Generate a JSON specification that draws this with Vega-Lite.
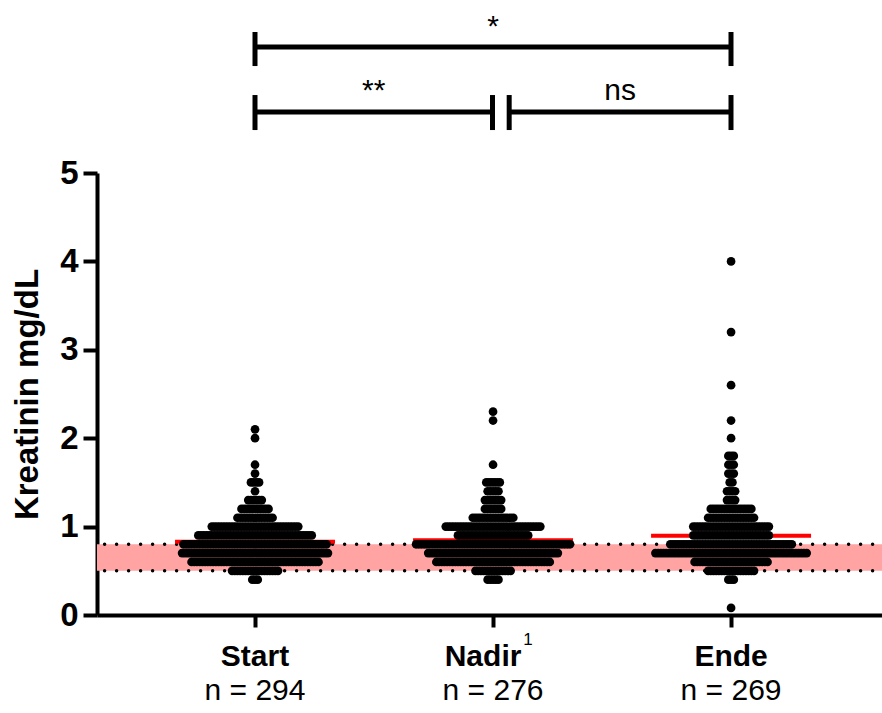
{
  "$schema": "https://vega.github.io/schema/vega-lite/v6.json",
  "width": 785,
  "height": 442,
  "autosize": "none",
  "padding": {"left": 97, "top": 173, "right": 0, "bottom": 98},
  "background": "white",
  "config": {
    "view": {"stroke": null},
    "font": "Liberation Sans",
    "axisY": {"domainColor": "black", "domainWidth": 4, "tickColor": "black", "tickWidth": 4, "tickSize": 14, "labelPadding": 5, "labelFontSize": 33, "labelFontWeight": "bold", "labelColor": "black", "titleFontSize": 33, "titleFontWeight": "bold", "titleColor": "black", "titlePadding": 15, "grid": false, "zindex": 1, "format": "d"},
    "axisX": {"domainColor": "black", "domainWidth": 4, "tickColor": "black", "tickWidth": 4, "tickSize": 12, "labelPadding": 14, "labelFontSize": 30, "labelFontWeight": "bold", "labelColor": "black", "grid": false, "labelAngle": 0, "zindex": 1}
  },
  "datasets": {
    "pts": [
      {"g": "Start", "v": [
        0.4,0.4,0.4,
        0.5,0.5,0.5,0.5,0.5,0.5,0.5,0.5,0.5,0.5,
        0.5,0.5,0.5,0.5,0.5,0.5,0.5,0.5,
        0.6,0.6,0.6,0.6,0.6,0.6,0.6,0.6,0.6,0.6,
        0.6,0.6,0.6,0.6,0.6,0.6,0.6,0.6,0.6,0.6,
        0.6,0.6,0.6,0.6,0.6,0.6,0.6,0.6,0.6,0.6,
        0.6,0.6,0.6,0.6,0.6,0.6,0.6,0.6,0.6,0.6,
        0.6,0.6,0.6,0.6,0.6,0.6,0.6,0.6,
        0.7,0.7,0.7,0.7,0.7,0.7,0.7,0.7,0.7,0.7,
        0.7,0.7,0.7,0.7,0.7,0.7,0.7,0.7,0.7,0.7,
        0.7,0.7,0.7,0.7,0.7,0.7,0.7,0.7,0.7,0.7,
        0.7,0.7,0.7,0.7,0.7,0.7,0.7,0.7,0.7,0.7,
        0.7,0.7,0.7,0.7,0.7,0.7,0.7,0.7,0.7,0.7,
        0.7,0.7,0.7,0.7,0.7,
        0.8,0.8,0.8,0.8,0.8,0.8,0.8,0.8,0.8,0.8,
        0.8,0.8,0.8,0.8,0.8,0.8,0.8,0.8,0.8,0.8,
        0.8,0.8,0.8,0.8,0.8,0.8,0.8,0.8,0.8,0.8,
        0.8,0.8,0.8,0.8,0.8,0.8,0.8,0.8,0.8,0.8,
        0.8,0.8,0.8,0.8,0.8,0.8,0.8,0.8,0.8,0.8,
        0.8,0.8,0.8,0.8,
        0.9,0.9,0.9,0.9,0.9,0.9,0.9,0.9,0.9,0.9,
        0.9,0.9,0.9,0.9,0.9,0.9,0.9,0.9,0.9,0.9,
        0.9,0.9,0.9,0.9,0.9,0.9,0.9,0.9,0.9,0.9,
        0.9,0.9,0.9,0.9,0.9,0.9,0.9,0.9,0.9,0.9,
        0.9,0.9,0.9,
        1,1,1,1,1,1,1,1,1,1,
        1,1,1,1,1,1,1,1,1,1,
        1,1,1,1,1,1,1,1,1,1,
        1,1,1,
        1.1,1.1,1.1,1.1,1.1,1.1,1.1,1.1,1.1,1.1,
        1.1,1.1,1.1,1.1,
        1.2,1.2,1.2,1.2,1.2,1.2,1.2,1.2,1.2,1.2,
        1.2,
        1.3,1.3,1.3,1.3,1.3,1.3,
        1.4,
        1.5,1.5,1.5,1.5,
        1.6,1.7,2.0,2.1
      ]},
      {"g": "Nadir", "v": [
        0.4,0.4,0.4,0.4,0.4,
        0.5,0.5,0.5,0.5,0.5,0.5,0.5,0.5,0.5,0.5,
        0.5,0.5,0.5,0.5,
        0.6,0.6,0.6,0.6,0.6,0.6,0.6,0.6,0.6,0.6,
        0.6,0.6,0.6,0.6,0.6,0.6,0.6,0.6,0.6,0.6,
        0.6,0.6,0.6,0.6,0.6,0.6,0.6,0.6,0.6,0.6,
        0.6,0.6,0.6,0.6,0.6,0.6,0.6,0.6,0.6,0.6,
        0.6,0.6,0.6,
        0.7,0.7,0.7,0.7,0.7,0.7,0.7,0.7,0.7,0.7,
        0.7,0.7,0.7,0.7,0.7,0.7,0.7,0.7,0.7,0.7,
        0.7,0.7,0.7,0.7,0.7,0.7,0.7,0.7,0.7,0.7,
        0.7,0.7,0.7,0.7,0.7,0.7,0.7,0.7,0.7,0.7,
        0.7,0.7,0.7,0.7,0.7,0.7,0.7,0.7,0.7,
        0.8,0.8,0.8,0.8,0.8,0.8,0.8,0.8,0.8,0.8,
        0.8,0.8,0.8,0.8,0.8,0.8,0.8,0.8,0.8,0.8,
        0.8,0.8,0.8,0.8,0.8,0.8,0.8,0.8,0.8,0.8,
        0.8,0.8,0.8,0.8,0.8,0.8,0.8,0.8,0.8,0.8,
        0.8,0.8,0.8,0.8,0.8,0.8,0.8,0.8,0.8,0.8,
        0.8,0.8,0.8,0.8,0.8,0.8,0.8,0.8,
        0.9,0.9,0.9,0.9,0.9,0.9,0.9,0.9,0.9,0.9,
        0.9,0.9,0.9,0.9,0.9,0.9,0.9,0.9,0.9,0.9,
        0.9,0.9,0.9,0.9,0.9,0.9,0.9,
        1,1,1,1,1,1,1,1,1,1,
        1,1,1,1,1,1,1,1,1,1,
        1,1,1,1,1,1,1,1,1,1,
        1,1,1,1,1,1,
        1.1,1.1,1.1,1.1,1.1,1.1,1.1,1.1,1.1,1.1,
        1.1,1.1,1.1,1.1,1.1,1.1,
        1.2,1.2,1.2,1.2,1.2,1.2,1.2,
        1.3,1.3,1.3,1.3,1.3,1.3,1.3,
        1.4,1.4,1.4,1.4,1.4,
        1.5,1.5,1.5,1.5,1.5,1.5,
        1.7,2.2,2.3
      ]},
      {"g": "Ende", "v": [
        0.08,
        0.4,0.4,0.4,
        0.5,0.5,0.5,0.5,0.5,0.5,0.5,0.5,0.5,0.5,
        0.5,0.5,0.5,0.5,0.5,0.5,0.5,0.5,
        0.6,0.6,0.6,0.6,0.6,0.6,0.6,0.6,0.6,0.6,
        0.6,0.6,0.6,0.6,0.6,0.6,0.6,0.6,0.6,0.6,
        0.6,0.6,0.6,0.6,0.6,0.6,0.6,0.6,
        0.7,0.7,0.7,0.7,0.7,0.7,0.7,0.7,0.7,0.7,
        0.7,0.7,0.7,0.7,0.7,0.7,0.7,0.7,0.7,0.7,
        0.7,0.7,0.7,0.7,0.7,0.7,0.7,0.7,0.7,0.7,
        0.7,0.7,0.7,0.7,0.7,0.7,0.7,0.7,0.7,0.7,
        0.7,0.7,0.7,0.7,0.7,0.7,0.7,0.7,0.7,0.7,
        0.7,0.7,0.7,0.7,0.7,0.7,0.7,
        0.8,0.8,0.8,0.8,0.8,0.8,0.8,0.8,0.8,0.8,
        0.8,0.8,0.8,0.8,0.8,0.8,0.8,0.8,0.8,0.8,
        0.8,0.8,0.8,0.8,0.8,0.8,0.8,0.8,0.8,0.8,
        0.8,0.8,0.8,0.8,0.8,0.8,0.8,0.8,0.8,0.8,
        0.8,0.8,0.8,0.8,0.8,0.8,
        0.9,0.9,0.9,0.9,0.9,0.9,0.9,0.9,0.9,0.9,
        0.9,0.9,0.9,0.9,0.9,0.9,0.9,0.9,0.9,0.9,
        0.9,0.9,0.9,0.9,0.9,0.9,0.9,0.9,0.9,
        1,1,1,1,1,1,1,1,1,1,
        1,1,1,1,1,1,1,1,1,1,
        1,1,1,1,1,1,1,1,1,
        1.1,1.1,1.1,1.1,1.1,1.1,1.1,1.1,1.1,1.1,
        1.1,1.1,1.1,1.1,1.1,1.1,1.1,1.1,
        1.2,1.2,1.2,1.2,1.2,1.2,1.2,1.2,1.2,1.2,
        1.2,1.2,1.2,1.2,1.2,1.2,
        1.3,1.3,1.3,1.3,
        1.4,1.4,1.4,1.4,
        1.5,1.5,
        1.6,1.6,1.6,
        1.7,1.7,1.7,
        1.8,1.8,1.8,
        2.0,2.2,2.6,3.2,4.0
      ]}
    ],
    "b1": [{"a": 0, "b": 2, "m": 1, "t": "*"}],
    "b2": [{"a": 0, "b": 0.9979, "m": 0.499, "t": "**"}, {"a": 1.068, "b": 2, "m": 1.534, "t": "ns"}]
  },
  "resolve": {"scale": {"x": "independent"}},
  "layer": [
    {
      "data": {"values": [{"lo": 0.5, "hi": 0.8}]},
      "mark": {"type": "rect", "color": "#ffa3a3"},
      "encoding": {
        "y": {"field": "lo", "type": "quantitative", "scale": {"domain": [0, 5]}, "axis": {"title": "Kreatinin mg/dL", "values": [0, 1, 2, 3, 4, 5]}},
        "y2": {"field": "hi"}
      }
    },
    {
      "data": {"values": [{"lim": 0.5}, {"lim": 0.8}]},
      "mark": {"type": "rule", "color": "black", "strokeWidth": 3.5, "strokeDash": [0, 12], "strokeCap": "round", "strokeDashOffset": 2.6},
      "encoding": {
        "y": {"field": "lim", "type": "quantitative", "scale": {"domain": [0, 5]}, "axis": {"title": "Kreatinin mg/dL", "values": [0, 1, 2, 3, 4, 5]}}
      }
    },
    {
      "data": {"name": "pts"},
      "transform": [{"flatten": ["v"]}],
      "encoding": {
        "x": {"field": "g", "type": "nominal", "scale": {"domain": ["Start", "Nadir", "Ende"], "paddingInner": 0, "paddingOuter": 0.149, "align": 0.55}, "axis": {"title": null, "labelOffset": {"condition": {"test": "datum.value === 'Nadir'", "value": -10}, "value": 0}}}
      },
      "layer": [
        {
          "mark": {"type": "tick", "color": "#ff0000", "thickness": 4, "size": 160},
          "encoding": {
            "y": {"aggregate": "mean", "field": "v", "type": "quantitative", "scale": {"domain": [0, 5]}, "axis": {"title": "Kreatinin mg/dL", "values": [0, 1, 2, 3, 4, 5]}}
          }
        },
        {
          "transform": [
            {"window": [{"op": "count", "as": "one"}], "frame": [0, 0]},
            {"stack": "one", "groupby": ["g", "v"], "offset": "center", "as": ["s0", "s1"]}
          ],
          "mark": {"type": "circle", "size": 76, "color": "black", "opacity": 1},
          "encoding": {
            "y": {"field": "v", "type": "quantitative", "scale": {"domain": [0, 5]}, "axis": {"title": "Kreatinin mg/dL", "values": [0, 1, 2, 3, 4, 5]}},
            "xOffset": {"field": "s0", "type": "quantitative", "scale": {"domain": [-15.57, 72.57]}}
          }
        },
        {
          "data": {"values": [{"g": "Start", "n": "n = 294"}, {"g": "Nadir", "n": "n = 276"}, {"g": "Ende", "n": "n = 269"}]},
          "mark": {"type": "text", "fontSize": 30, "baseline": "alphabetic", "color": "black"},
          "encoding": {
            "y": {"datum": -0.9615, "type": "quantitative", "scale": {"domain": [0, 5]}},
            "text": {"field": "n"}
          }
        },
        {
          "data": {"values": [{"g": "Nadir", "s": "1"}]},
          "mark": {"type": "text", "fontSize": 17, "baseline": "alphabetic", "dx": 35, "color": "black"},
          "encoding": {
            "y": {"datum": -0.339, "type": "quantitative", "scale": {"domain": [0, 5]}},
            "text": {"field": "s"}
          }
        }
      ]
    },
    {
      "layer": [
        {
          "data": {"name": "b1"},
          "mark": {"type": "rule", "strokeWidth": 5, "color": "black"},
          "encoding": {
            "x": {"field": "a", "type": "quantitative", "scale": {"domain": [-0.66387, 2.63445], "nice": false, "zero": false}, "axis": null},
            "x2": {"field": "b"},
            "y": {"datum": 6.425, "type": "quantitative", "scale": {"domain": [0, 5]}}
          }
        },
        {
          "data": {"name": "b1"},
          "mark": {"type": "rule", "strokeWidth": 5, "color": "black"},
          "encoding": {
            "x": {"field": "a", "type": "quantitative", "scale": {"domain": [-0.66387, 2.63445], "nice": false, "zero": false}, "axis": null},
            "y": {"datum": 6.21, "type": "quantitative", "scale": {"domain": [0, 5]}},
            "y2": {"datum": 6.595}
          }
        },
        {
          "data": {"name": "b1"},
          "mark": {"type": "rule", "strokeWidth": 5, "color": "black"},
          "encoding": {
            "x": {"field": "b", "type": "quantitative", "scale": {"domain": [-0.66387, 2.63445], "nice": false, "zero": false}, "axis": null},
            "y": {"datum": 6.21, "type": "quantitative", "scale": {"domain": [0, 5]}},
            "y2": {"datum": 6.595}
          }
        },
        {
          "data": {"name": "b1"},
          "mark": {"type": "text", "fontSize": 30, "baseline": "alphabetic", "color": "black"},
          "encoding": {
            "x": {"field": "m", "type": "quantitative", "scale": {"domain": [-0.66387, 2.63445], "nice": false, "zero": false}, "axis": null},
            "y": {"datum": 6.55, "type": "quantitative", "scale": {"domain": [0, 5]}},
            "text": {"field": "t"}
          }
        },
        {
          "data": {"name": "b2"},
          "mark": {"type": "rule", "strokeWidth": 5, "color": "black"},
          "encoding": {
            "x": {"field": "a", "type": "quantitative", "scale": {"domain": [-0.66387, 2.63445], "nice": false, "zero": false}, "axis": null},
            "x2": {"field": "b"},
            "y": {"datum": 5.69, "type": "quantitative", "scale": {"domain": [0, 5]}}
          }
        },
        {
          "data": {"name": "b2"},
          "mark": {"type": "rule", "strokeWidth": 5, "color": "black"},
          "encoding": {
            "x": {"field": "a", "type": "quantitative", "scale": {"domain": [-0.66387, 2.63445], "nice": false, "zero": false}, "axis": null},
            "y": {"datum": 5.486, "type": "quantitative", "scale": {"domain": [0, 5]}},
            "y2": {"datum": 5.882}
          }
        },
        {
          "data": {"name": "b2"},
          "mark": {"type": "rule", "strokeWidth": 5, "color": "black"},
          "encoding": {
            "x": {"field": "b", "type": "quantitative", "scale": {"domain": [-0.66387, 2.63445], "nice": false, "zero": false}, "axis": null},
            "y": {"datum": 5.486, "type": "quantitative", "scale": {"domain": [0, 5]}},
            "y2": {"datum": 5.882}
          }
        },
        {
          "data": {"name": "b2"},
          "mark": {"type": "text", "fontSize": 30, "baseline": "alphabetic", "color": "black"},
          "encoding": {
            "x": {"field": "m", "type": "quantitative", "scale": {"domain": [-0.66387, 2.63445], "nice": false, "zero": false}, "axis": null},
            "y": {"datum": 5.826, "type": "quantitative", "scale": {"domain": [0, 5]}},
            "text": {"field": "t"}
          }
        }
      ]
    }
  ]
}
